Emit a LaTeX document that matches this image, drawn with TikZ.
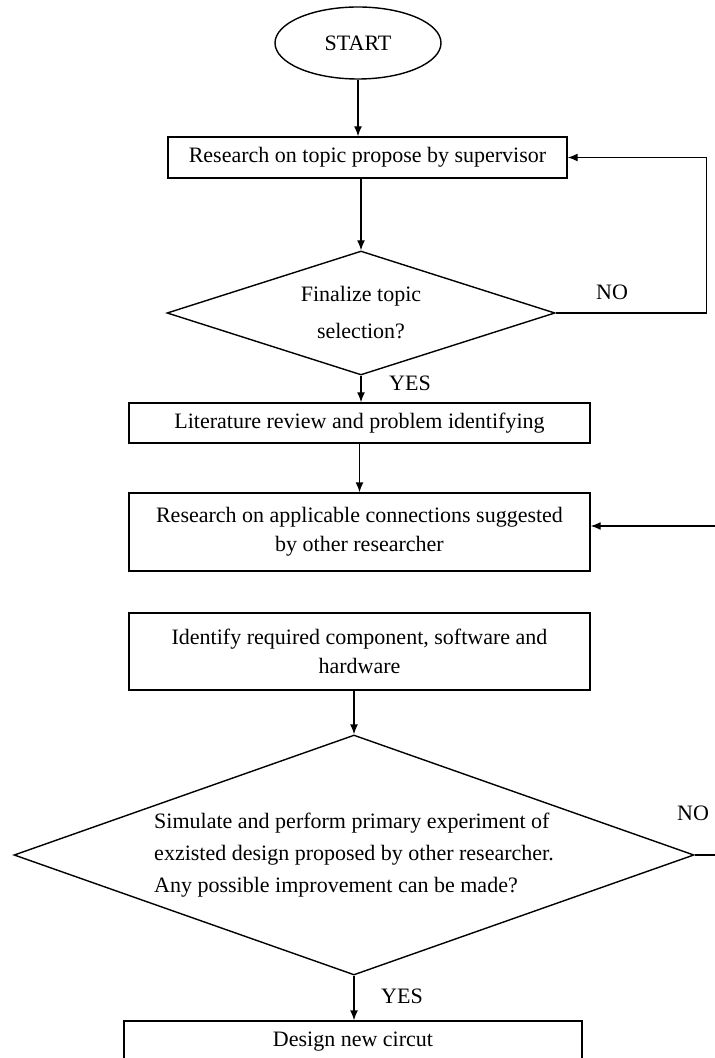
\documentclass[tikz,border=0pt]{standalone}
\usepackage{fontspec}
\setmainfont{Liberation Serif}
\usetikzlibrary{shapes.geometric,arrows.meta}
\begin{document}
\begin{tikzpicture}[x=0.5pt,y=-0.5pt,line width=0.7pt,font=\fontsize{11}{14.5}\selectfont]
\tikzstyle{process}=[draw,rectangle,minimum height=20pt,inner sep=2pt,align=center]
\tikzstyle{decision}=[draw,diamond,inner sep=0pt,align=center]
\tikzstyle{terminal}=[draw,ellipse,minimum width=83pt,minimum height=36pt,inner sep=0pt]
\tikzstyle{flow}=[-{Latex[length=5pt,width=4pt]}]
\tikzstyle{answer}=[inner sep=0pt]

\useasboundingbox (0,0) rectangle (715,1058);

% Draw the start terminal
\node[terminal] (start) at (358,43) {START};

% Draw the steps and the decisions
\node[process, minimum width=199.5pt, minimum height=20.5pt] (topic) at (367.5,157.5) {Research on topic propose by supervisor};
\node[decision, aspect=3.13, minimum width=194pt, minimum height=62pt] (finalize) at (361,313) {Finalize topic\\[4pt]selection?};
\node[process, minimum width=230.5pt] (review) at (359.5,423) {Literature review and problem identifying};
\node[process, minimum width=230.5pt, minimum height=39pt] (connect) at (359.5,532) {Research on applicable connections suggested\\by other researcher};
\node[process, minimum width=230.5pt, minimum height=38.5pt] (identify) at (359.5,651.5) {Identify required component, software and\\hardware};
\node[decision, aspect=2.83, minimum width=340pt, minimum height=120pt, align=left] (improve) at (354,855) {Simulate and perform primary experiment of\\[1.5pt]exzisted design proposed by other researcher.\\[1.5pt]Any possible improvement can be made?};
\node[process, minimum width=229pt, minimum height=21pt] (design) at (353,1042) {Design new circut};

% Connect the steps from top to bottom
\draw[flow] (start) -- (start |- topic.north);
\draw[flow] (topic.south -| finalize.north) -- (finalize.north);
\draw[flow] (finalize.south) -- (finalize.south |- review.north);
\draw[flow] (review) -- (connect);
\draw[flow] (identify.south -| improve.north) -- (improve.north);
\draw[flow] (improve.south) -- (improve.south |- design.north);

% Loop back when the topic is not final
\draw[flow] (finalize.east) -- ++(151,0) |- (topic.east);

% Lines coming in and going out at the right edge
\coordinate (feedback) at (715,526);
\draw[flow] (feedback) -- (feedback -| connect.east);
\coordinate (exit) at (715,855);
\draw (improve.east) -- (exit);

% Annotate the answers
\node[answer] (no1) at (612,292) {NO};
\node[answer] (yes1) at (410,383) {YES};
\node[answer] (no2) at (693,813) {NO};
\node[answer] (yes2) at (402,996) {YES};

\end{tikzpicture}
\end{document}
